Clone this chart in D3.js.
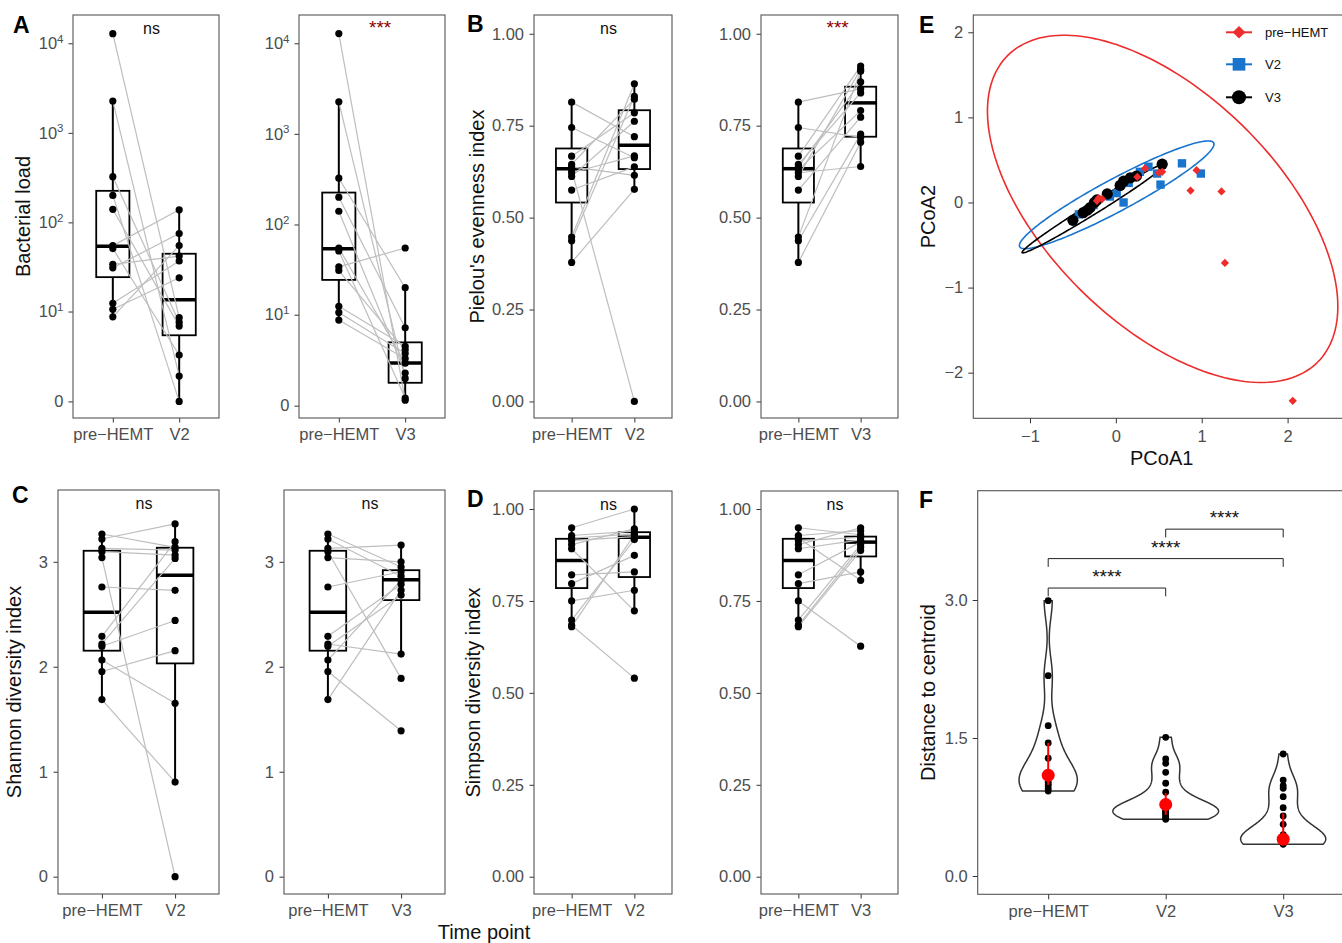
<!DOCTYPE html>
<html lang="en">
<head>
<meta charset="UTF-8">
<title>Microbiome changes after HEMT</title>
<script src="https://d3js.org/d3.v7.min.js"></script>
<style>
  body { margin: 0; background: #fff; }
</style>
</head>
<body>
<svg id="fig" width="1342" height="943"></svg>
<script>
// ---------- values ----------
const groups = ["pre-HEMT", "V2", "V3"];

// A: bacterial load (one entry per subject, same order in every array)
const loadPre = [12800, 2260, 324, 200, 140, 55, 51, 34, 31, 12.4, 10.6, 8.7];
const loadV2  = [8.5, 1.4, 7.5, 0, 6.8, 138, 3, 42, 75, 37, 24, 55];
const loadV3  = [0.28, 1.5, 20, 7.1, 1.86, 2.6, 0.39, 55, 3.9, 4.3, 3.5, 3.0];
const loadTicks = [0, 10, 100, 1000, 10000];
// box stats: [lower whisker, q1, median, q3, upper whisker]
const loadBoxPre = [8.7, 24.4, 54, 225, 2260];
const loadBoxV2  = [0, 5.3, 13.6, 44.6, 138];
const loadBoxV3  = [0.28, 1.23, 2.62, 4.8, 20.4];

// B: Pielou's evenness
const evenPre = [0.814, 0.745, 0.667, 0.645, 0.638, 0.630, 0.622, 0.612, 0.575, 0.447, 0.437, 0.378];
const evenV2  = [0.72, 0.663, 0.785, 0.822, 0.615, 0.0, 0.668, 0.762, 0.638, 0.864, 0.83, 0.577];
const evenV3  = [0.85, 0.718, 0.912, 0.839, 0.869, 0.791, 0.639, 0.903, 0.773, 0.898, 0.727, 0.705];
const evenBoxPre = [0.378, 0.541, 0.633, 0.688, 0.814];
const evenBoxV2  = [0.577, 0.632, 0.697, 0.792, 0.864];
const evenBoxV3  = [0.639, 0.72, 0.812, 0.856, 0.912];

// C: Shannon
const shanPre = [3.265, 3.217, 3.128, 3.096, 3.04, 2.76, 2.29, 2.217, 2.195, 2.064, 1.955, 1.687];
const shanV2  = [3.137, 3.361, 3.112, 3.064, 0.0, 2.728, 3.192, 3.032, 2.441, 1.652, 2.153, 0.901];
const shanV3  = [2.95, 2.863, 3.159, 1.889, 3.0, 2.905, 2.787, 2.121, 2.683, 2.825, 1.39, 2.73];
const shanBoxPre = [1.687, 2.153, 2.52, 3.105, 3.265];
const shanBoxV2  = [0.901, 2.032, 2.872, 3.134, 3.361];
const shanBoxV3  = [2.121, 2.635, 2.83, 2.92, 3.159];

// D: Simpson
const simpPre = [0.949, 0.928, 0.921, 0.914, 0.903, 0.892, 0.821, 0.797, 0.75, 0.698, 0.684, 0.68];
const simpV2  = [1.0, 0.94, 0.932, 0.925, 0.946, 0.723, 0.829, 0.874, 0.779, 0.917, 0.54, 0.93];
const simpV3  = [0.93, 0.941, 0.806, 0.923, 0.949, 0.916, 0.91, 0.829, 0.627, 0.903, 0.896, 0.887];
const simpBoxPre = [0.68, 0.785, 0.86, 0.919, 0.949];
const simpBoxV2  = [0.723, 0.815, 0.923, 0.937, 1.0];
const simpBoxV3  = [0.806, 0.871, 0.91, 0.925, 0.949];

// E: PCoA coordinates
const pcoaPreX = [2.06, 1.27, 1.23, 0.87, 0.94, 0.54, 0.34, -0.16, -0.20, 0.50, 0.25, -0.22];
const pcoaPreY = [-2.33, -0.71, 0.13, 0.14, 0.38, 0.36, 0.40, 0.04, 0.05, 0.35, 0.30, 0.02];
const pcoaV2X  = [0.77, 0.99, 0.52, 0.48, 0.38, 0.28, 0.09, 0.15, 0.01, -0.07, -0.26, -0.43];
const pcoaV2Y  = [0.46, 0.34, 0.21, 0.34, 0.42, 0.36, 0.00, 0.23, 0.11, 0.07, -0.03, -0.14];
const pcoaV3X  = [0.54, 0.24, 0.17, 0.09, 0.05, -0.10, -0.22, -0.25, -0.30, -0.33, -0.38, -0.50];
const pcoaV3Y  = [0.45, 0.31, 0.29, 0.25, 0.20, 0.10, 0.03, 0.00, -0.06, -0.09, -0.12, -0.21];
// 95% ellipses: centre, semi-axes, angle (degrees)
const ellCx = [0.545, 0.01, -0.26];
const ellCy = [-0.075, 0.09, -0.07];
const ellA  = [2.55, 1.284, 0.98];
const ellB  = [1.35, 0.19, 0.065];
const ellAngle = [-45, 28.4, 32];

// F: distance to centroid (overlapping dots near the bottom of V2 / V3)
const distPre = [2.993, 2.177, 1.634, 1.446, 1.28, 1.12, 1.09, 1.025, 1.0, 0.98, 0.95, 0.924];
const distV2  = [1.507, 1.272, 1.225, 1.127, 1.008, 0.91, 0.80, 0.77, 0.75, 0.73, 0.72, 0.70,
                 0.69, 0.68, 0.665, 0.645, 0.63, 0.616];
const distV3  = [1.326, 1.043, 0.982, 0.953, 0.862, 0.743, 0.652, 0.562, 0.45, 0.42, 0.41, 0.40,
                 0.39, 0.39, 0.38, 0.38, 0.37, 0.36, 0.355, 0.345];
const distMid = [1.095, 0.777, 0.40];
const distLo  = [0.99, 0.665, 0.36];
const distHi  = [1.446, 0.90, 0.68];
const sigPairs  = [["pre-HEMT", "V2"], ["pre-HEMT", "V3"], ["V2", "V3"]];
const sigLevels = [3.13, 3.45, 3.77];
const sigText   = ["****", "****", "****"];

// ---------- drawing ----------
const FONT = "'Liberation Sans', Arial, sans-serif";
const TICK_GRAY = "#4D4D4D";
const BORDER = "#555";
const RED = "#EE2C2C", BLUE = "#1874CD";
const svg = d3.select("#fig").attr("font-family", FONT);

const show = c => c.replace("-", "\u2212");
const tf = v => Math.asinh(v / 2) / Math.LN10;   // pseudo-log10

function finishAxis(ax) {
  ax.attr("font-family", FONT).attr("font-size", 16.5);
  ax.select(".domain").remove();
  ax.selectAll(".tick line").attr("stroke", "#333");
  ax.selectAll(".tick text").attr("fill", TICK_GRAY);
}

function frame(x0, x1, y0, y1) {
  svg.append("rect").attr("x", x0).attr("y", y0)
    .attr("width", x1 - x0).attr("height", y1 - y0)
    .attr("fill", "none").attr("stroke", BORDER).attr("stroke-width", 1.1);
}

function yTitle(text, x, y) {
  svg.append("text").attr("transform", `translate(${x},${y}) rotate(-90)`)
    .attr("text-anchor", "middle").attr("font-size", 20).attr("fill", "#111").text(text);
}

function letter(t, x, y) {
  svg.append("text").attr("x", x).attr("y", y).attr("font-size", 23)
    .attr("font-weight", "bold").text(t);
}

// returns the new text element
function sigLabel(g, text, x, y, anchor) {
  const stars = text !== "ns";
  return g.append("text").attr("x", x).attr("y", y).attr("text-anchor", anchor)
    .attr("font-size", stars ? 19 : 16).attr("fill", "#111").text(text);
}

const pairPanels = [
  { letter: "A", lx: 13, ly: 33, title: "Bacterial load", tx: 30, box: [73, 219, 15, 418], post: "V2",
    pre: loadPre, postVals: loadV2, boxPre: loadBoxPre, boxPost: loadBoxV2,
    domain: [-0.185, 4.316], log: true, ticks: loadTicks, sig: "ns" },
  { box: [299, 445, 15, 418], post: "V3", pre: loadPre, postVals: loadV3, boxPre: loadBoxPre, boxPost: loadBoxV3,
    domain: [-0.136, 4.312], log: true, ticks: loadTicks, sig: "***" },
  { letter: "B", lx: 467, ly: 32, title: "Pielou's evenness index", tx: 484, box: [534, 672, 15, 418], post: "V2",
    pre: evenPre, postVals: evenV2, boxPre: evenBoxPre, boxPost: evenBoxV2,
    domain: [-0.045, 1.051], ticks: [0, 0.25, 0.5, 0.75, 1], fmt: ".2f", sig: "ns" },
  { box: [761, 898, 15, 418], post: "V3", pre: evenPre, postVals: evenV3, boxPre: evenBoxPre, boxPost: evenBoxV3,
    domain: [-0.045, 1.051], ticks: [0, 0.25, 0.5, 0.75, 1], fmt: ".2f", sig: "***" },
  { letter: "C", lx: 12, ly: 503, title: "Shannon diversity index", tx: 21, box: [58, 219, 490, 894], post: "V2",
    pre: shanPre, postVals: shanV2, boxPre: shanBoxPre, boxPost: shanBoxV2,
    domain: [-0.165, 3.684], ticks: [0, 1, 2, 3], fmt: "d", sig: "ns" },
  { box: [284, 445, 490, 894], post: "V3", pre: shanPre, postVals: shanV3, boxPre: shanBoxPre, boxPost: shanBoxV3,
    domain: [-0.165, 3.684], ticks: [0, 1, 2, 3], fmt: "d", sig: "ns" },
  { letter: "D", lx: 467, ly: 507, title: "Simpson diversity index", tx: 480, box: [534, 672, 491, 894], post: "V2",
    pre: simpPre, postVals: simpV2, boxPre: simpBoxPre, boxPost: simpBoxV2,
    domain: [-0.047, 1.049], ticks: [0, 0.25, 0.5, 0.75, 1], fmt: ".2f", sig: "ns" },
  { box: [761, 898, 491, 894], post: "V3", pre: simpPre, postVals: simpV3, boxPre: simpBoxPre, boxPost: simpBoxV3,
    domain: [-0.047, 1.049], ticks: [0, 0.25, 0.5, 0.75, 1], fmt: ".2f", sig: "ns" }
];

function pairedPanel(p) {
  const [x0, x1, y0, y1] = p.box;
  const x = d3.scalePoint().domain(["pre-HEMT", p.post]).range([x0, x1]).padding(0.6);
  const y = d3.scaleLinear().domain(p.domain).range([y1, y0]);
  const val = p.log ? (v => y(tf(v))) : (v => y(v));
  const bw = x.step() * 0.5;
  const g = svg.append("g");

  frame(x0, x1, y0, y1);

  // y axis
  let yax;
  if (p.log) {
    yax = g.append("g").attr("transform", `translate(${x0},0)`)
      .call(d3.axisLeft(y).tickValues(p.ticks.map(tf)).tickFormat("").tickSize(4.5).tickPadding(5));
    finishAxis(yax);
    yax.selectAll(".tick text").each(function (d, i) {
      const t = d3.select(this);
      const v = p.ticks[i];
      if (v === 0) { t.text("0"); return; }
      t.append("tspan").text("10");
      t.append("tspan").attr("dy", "-0.55em").attr("font-size", 11.5).text(Math.round(Math.log10(v)));
    });
  } else {
    yax = g.append("g").attr("transform", `translate(${x0},0)`)
      .call(d3.axisLeft(y).tickValues(p.ticks).tickFormat(d3.format(p.fmt)).tickSize(4.5).tickPadding(5.5));
    finishAxis(yax);
  }
  // x axis
  const xax = g.append("g").attr("transform", `translate(0,${y1})`)
    .call(d3.axisBottom(x).tickFormat(show).tickSize(4.5).tickPadding(6));
  finishAxis(xax);

  // boxes
  [["pre-HEMT", p.boxPre], [p.post, p.boxPost]].forEach(([c, s]) => {
    const cx = x(c);
    g.append("line").attr("x1", cx).attr("x2", cx).attr("y1", val(s[4])).attr("y2", val(s[3]))
      .attr("stroke", "#000").attr("stroke-width", 2);
    g.append("line").attr("x1", cx).attr("x2", cx).attr("y1", val(s[1])).attr("y2", val(s[0]))
      .attr("stroke", "#000").attr("stroke-width", 2);
    g.append("rect").attr("x", cx - bw / 2).attr("width", bw)
      .attr("y", val(s[3])).attr("height", val(s[1]) - val(s[3]))
      .attr("fill", "#fff").attr("stroke", "#000").attr("stroke-width", 1.8);
    g.append("line").attr("x1", cx - bw / 2).attr("x2", cx + bw / 2)
      .attr("y1", val(s[2])).attr("y2", val(s[2]))
      .attr("stroke", "#000").attr("stroke-width", 3.5);
  });

  // paired lines
  g.append("g").selectAll("line").data(d3.range(p.pre.length)).join("line")
    .attr("x1", x("pre-HEMT")).attr("x2", x(p.post))
    .attr("y1", i => val(p.pre[i])).attr("y2", i => val(p.postVals[i]))
    .attr("stroke", "#BEBEBE").attr("stroke-width", 1.2);

  // points
  const pts = p.pre.map(v => ["pre-HEMT", v]).concat(p.postVals.map(v => [p.post, v]));
  g.append("g").selectAll("circle").data(pts).join("circle")
    .attr("cx", d => x(d[0])).attr("cy", d => val(d[1])).attr("r", 3.6).attr("fill", "#000");

  // significance
  sigLabel(g, p.sig, (x0 + x1) / 2 - 3, y0 + 18.5, "start")
    .attr("fill", p.sig === "ns" ? "#111" : "#8B0000");

  if (p.letter) {
    letter(p.letter, p.lx, p.ly);
    yTitle(p.title, p.tx, (y0 + y1) / 2);
  }
}
pairPanels.forEach(pairedPanel);

svg.append("text").attr("x", 484).attr("y", 939).attr("text-anchor", "middle")
  .attr("font-size", 20).attr("fill", "#111").text("Time point");

// ---------- E: PCoA ----------
(function () {
  const x0 = 973.3, x1 = 1353.7, y0 = 15, y1 = 418.3;
  const x = d3.scaleLinear().domain([-1.66, 2.77]).range([x0, x1]);
  const y = d3.scaleLinear().domain([-2.536, 2.203]).range([y1, y0]);
  frame(x0, x1, y0, y1);

  const yax = svg.append("g").attr("transform", `translate(${x0},0)`)
    .call(d3.axisLeft(y).tickValues([-2, -1, 0, 1, 2]).tickFormat(d3.format("d")).tickSize(5).tickPadding(5));
  finishAxis(yax);
  const xax = svg.append("g").attr("transform", `translate(0,${y1})`)
    .call(d3.axisBottom(x).tickValues([-1, 0, 1, 2]).tickFormat(d3.format("d")).tickSize(5).tickPadding(6.5));
  finishAxis(xax);

  // ellipses
  const ellColors = [RED, BLUE, "#000"];
  const line = d3.line().x(d => x(d[0])).y(d => y(d[1]));
  ellCx.forEach((cx, k) => {
    const th = ellAngle[k] * Math.PI / 180;
    const pts = d3.range(0, 201).map(i => {
      const t = i / 200 * 2 * Math.PI;
      const u = ellA[k] * Math.cos(t), w = ellB[k] * Math.sin(t);
      return [cx + u * Math.cos(th) - w * Math.sin(th), ellCy[k] + u * Math.sin(th) + w * Math.cos(th)];
    });
    svg.append("path").attr("d", line(pts)).attr("fill", "none")
      .attr("stroke", ellColors[k]).attr("stroke-width", 1.6);
  });

  // points: V2 squares, V3 circles, pre-HEMT diamonds
  svg.append("g").selectAll("path").data(d3.range(pcoaV2X.length)).join("path")
    .attr("d", d3.symbol(d3.symbolSquare, 70))
    .attr("transform", i => `translate(${x(pcoaV2X[i])},${y(pcoaV2Y[i])})`).attr("fill", BLUE);
  svg.append("g").selectAll("circle").data(d3.range(pcoaV3X.length)).join("circle")
    .attr("cx", i => x(pcoaV3X[i])).attr("cy", i => y(pcoaV3Y[i])).attr("r", 5.6).attr("fill", "#000");
  svg.append("g").selectAll("path").data(d3.range(pcoaPreX.length)).join("path")
    .attr("d", d3.symbol(d3.symbolSquare, 34))
    .attr("transform", i => `translate(${x(pcoaPreX[i])},${y(pcoaPreY[i])}) rotate(45)`).attr("fill", RED);

  // legend
  const lg = svg.append("g").attr("font-size", 13);
  const rows = [32.3, 64.3, 97.3];
  groups.forEach((gname, k) => {
    const ry = rows[k];
    lg.append("line").attr("x1", 1226).attr("x2", 1252).attr("y1", ry).attr("y2", ry)
      .attr("stroke", ellColors[k]).attr("stroke-width", 2);
    if (k === 0) lg.append("path").attr("d", d3.symbol(d3.symbolSquare, 80))
      .attr("transform", `translate(1239,${ry}) rotate(45)`).attr("fill", RED);
    if (k === 1) lg.append("path").attr("d", d3.symbol(d3.symbolSquare, 160))
      .attr("transform", `translate(1239,${ry})`).attr("fill", BLUE);
    if (k === 2) lg.append("circle").attr("cx", 1239).attr("cy", ry).attr("r", 7).attr("fill", "#000");
    lg.append("text").attr("x", 1265).attr("y", ry).attr("dy", "0.35em").attr("fill", "#111").text(show(gname));
  });

  letter("E", 919, 33);
  yTitle("PCoA2", 935, (y0 + y1) / 2);
  svg.append("text").attr("x", 1161.7).attr("y", 465).attr("text-anchor", "middle")
    .attr("font-size", 20).attr("fill", "#111").text("PCoA1");
})();

// ---------- F: distance to centroid ----------
(function () {
  const x0 = 977.7, x1 = 1353.7, y0 = 490.7, y1 = 894.3;
  const x = d3.scalePoint().domain(groups).range([x0, x1]).padding(0.6);
  const y = d3.scaleLinear().domain([-0.199, 4.188]).range([y1, y0]);
  frame(x0, x1, y0, y1);

  const yax = svg.append("g").attr("transform", `translate(${x0},0)`)
    .call(d3.axisLeft(y).tickValues([0, 1.5, 3]).tickFormat(d3.format(".1f")).tickSize(5).tickPadding(5));
  finishAxis(yax);
  const xax = svg.append("g").attr("transform", `translate(0,${y1})`)
    .call(d3.axisBottom(x).tickFormat(show).tickSize(5).tickPadding(6));
  finishAxis(xax);

  // gaussian kernel density, bw.nrd0, trimmed to data range, "area" scaling
  const sets = [distPre, distV2, distV3];
  const dens = sets.map(vals => {
    const s = vals.slice().sort(d3.ascending);
    const iqr = d3.quantile(s, 0.75) - d3.quantile(s, 0.25);
    const h = 0.9 * Math.min(d3.deviation(s), iqr / 1.34) * Math.pow(s.length, -0.2);
    const lo = s[0], hi = s[s.length - 1];
    return d3.range(0, 200).map(i => {
      const v = lo + (hi - lo) * i / 199;
      return [v, d3.mean(s, d => Math.exp(-0.5 * ((v - d) / h) ** 2)) / (h * Math.sqrt(2 * Math.PI))];
    });
  });
  const maxD = d3.max(dens, d => d3.max(d, e => e[1]));
  const half = x.step() * 0.45;
  dens.forEach((d, k) => {
    const cx = x(groups[k]);
    const area = d3.area().x0(e => cx - e[1] / maxD * half).x1(e => cx + e[1] / maxD * half).y(e => y(e[0]));
    svg.append("path").attr("d", area(d)).attr("fill", "#fff")
      .attr("stroke", "#333").attr("stroke-width", 1.5);
  });

  // points
  sets.forEach((vals, k) => {
    svg.append("g").selectAll("circle").data(vals).join("circle")
      .attr("cx", x(groups[k])).attr("cy", v => y(v)).attr("r", 3.4).attr("fill", "#000");
  });

  // summary (red point range)
  groups.forEach((gname, k) => {
    svg.append("line").attr("x1", x(gname)).attr("x2", x(gname))
      .attr("y1", y(distLo[k])).attr("y2", y(distHi[k])).attr("stroke", "#FF0000").attr("stroke-width", 2);
    svg.append("circle").attr("cx", x(gname)).attr("cy", y(distMid[k])).attr("r", 6.5).attr("fill", "#FF0000");
  });

  // significance brackets
  const tick = 0.09;
  const sg = svg.append("g");
  sigPairs.forEach((pr, k) => {
    const a = x(pr[0]), b = x(pr[1]), yy = y(sigLevels[k]), yt = y(sigLevels[k] - tick);
    svg.append("path").attr("d", `M${a},${yt}V${yy}H${b}V${yt}`)
      .attr("fill", "none").attr("stroke", "#222").attr("stroke-width", 1);
    sigLabel(sg, sigText[k], (a + b) / 2, yy - 5, "middle");
  });

  letter("F", 919, 508);
  yTitle("Distance to centroid", 935, (y0 + y1) / 2);
})();
</script>
</body>
</html>
